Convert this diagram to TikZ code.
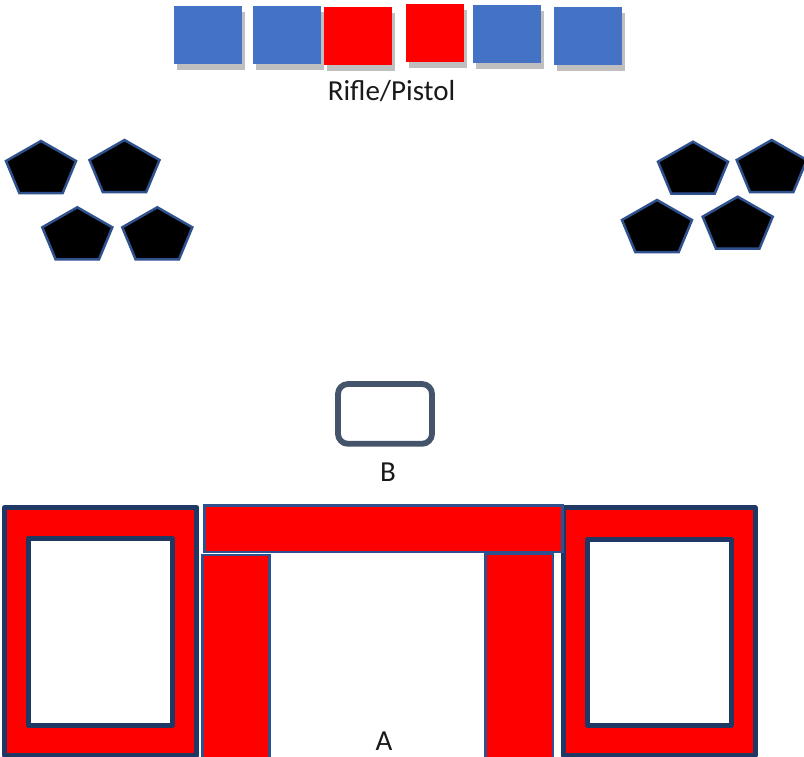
\documentclass[tikz,border=0pt]{standalone}
\usepackage{fontspec}
\setmainfont{Carlito}
\definecolor{targetblue}{HTML}{4472C4}
\definecolor{targetshadow}{HTML}{BFBFBF}
\definecolor{enemyline}{HTML}{2F528F}
\definecolor{wallline}{HTML}{203864}
\definecolor{boxline}{HTML}{44546A}
\tikzset{
	wall/.style={draw=wallline,line width=5pt,fill=red,line join=round},
	hole/.style={draw=wallline,line width=5pt,fill=white,line join=round},
	beam/.style={draw=enemyline,line width=2.5pt,fill=red},
	enemy/.style={draw=enemyline,line width=2.5pt,fill=black},
	label/.style={font=\fontsize{29pt}{32pt}\selectfont,text=black!90}
}
\begin{document}
\begin{tikzpicture}[x=1pt,y=-1pt]
	\useasboundingbox (0,0) rectangle (804,756);
	
	%TARGETS
	\foreach \x/\y/\w/\c in {174/6/68/targetblue,253/6/68/targetblue,324/7/68/red,406/4/58/red,473/5/68/targetblue,554/7/68/targetblue}
	{
	\fill[targetshadow] (\x+2.5,\y+5.5) rectangle +(\w,58);
	\fill[\c] (\x,\y) rectangle +(\w,58);
	}
	\node[label] (rifle) at (391.5,91) {Rifle/Pistol};
	
	%ENEMIES
	\foreach \x/\y in {41/141,124.5/140,77.3/207.3,157.3/207.3,693/141.7,771.7/140,657/200,737.7/196.7}
	\draw[enemy] (\x,\y)--(\x+35,\y+20)--(\x+21.7,\y+52)--(\x-21.7,\y+52)--(\x-35,\y+20)--cycle;
	
	%BOX
	\draw[draw=boxline,line width=5.8pt,rounded corners=10pt] (338,384) rectangle (432,443.8);
	\node[label] (boxlabel) at (388,472) {B};
	
	%WALLS
	\draw[wall] (4.5,507.5) rectangle (196.7,755.5);
	\draw[hole] (28.5,538.5) rectangle (172.5,725);
	\draw[wall] (563,507.7) rectangle (755,755.5);
	\draw[hole] (587.5,539) rectangle (731,725);
	\draw[beam] (202.5,555) rectangle (269.5,770);
	\draw[beam] (485.5,553.5) rectangle (553,770);
	\draw[beam] (204.5,505.5) rectangle (562.5,552);
	\node[label] (walllabel) at (384,741) {A};
\end{tikzpicture}
\end{document}
